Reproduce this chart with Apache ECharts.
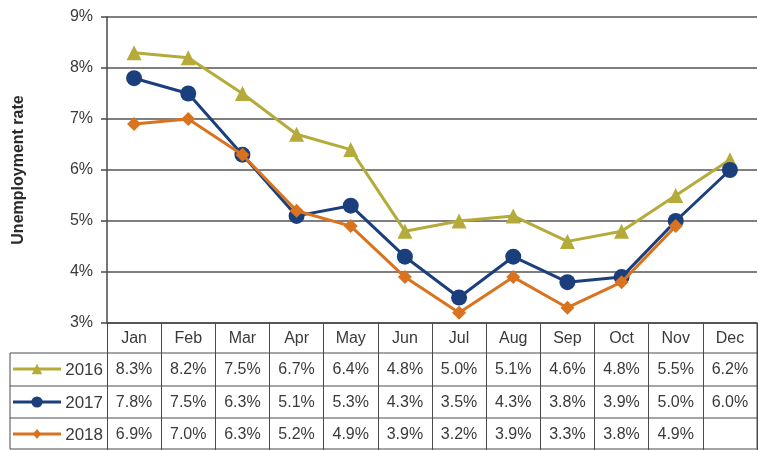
<!DOCTYPE html>
<html>
<head>
<meta charset="utf-8">
<script src="https://cdn.jsdelivr.net/npm/echarts@6/dist/echarts.min.js"></script>
<style>
html,body{margin:0;padding:0;background:#fff;}
#c{width:758px;height:450px;}
</style>
</head>
<body>
<div id="c"></div>
<script>
const categories = ['Jan','Feb','Mar','Apr','May','Jun','Jul','Aug','Sep','Oct','Nov','Dec'];
const seriesNames = ['2016','2017','2018'];
const s2016 = [8.3,8.2,7.5,6.7,6.4,4.8,5.0,5.1,4.6,4.8,5.5,6.2];
const s2017 = [7.8,7.5,6.3,5.1,5.3,4.3,3.5,4.3,3.8,3.9,5.0,6.0];
const s2018 = [6.9,7.0,6.3,5.2,4.9,3.9,3.2,3.9,3.3,3.8,4.9];
const yMin = 3, yMax = 9, yStep = 1;
const yTitle = 'Unemployment rate';

const colors = ['#b4ab3a','#1b3f7d','#d9731f'];
const symbols = ['triangle','circle','diamond'];
const symbolSizes = [15,16,14];
const allData = [s2016, s2017, s2018];
const FONT = "'Liberation Sans', Arial, sans-serif";
const TXT = '#3a3a3a';
const LINE = '#4a4a4a';

const chart = echarts.init(document.getElementById('c'), null, {renderer:'canvas'});
const option = {
  backgroundColor:'#fff',
  animation:false,
  grid:{left:107, right:1, top:17, bottom:127, containLabel:false, outerBoundsMode:'none'},
  xAxis:{
    type:'category', data:categories, boundaryGap:true,
    axisLine:{show:true, lineStyle:{color:LINE, width:1.5}},
    axisTick:{show:true, length:127, lineStyle:{color:LINE, width:1}},
    axisLabel:{color:TXT, fontFamily:FONT, fontSize:16, margin:8}
  },
  yAxis:{
    type:'value', min:yMin, max:yMax, interval:yStep,
    name:yTitle, nameLocation:'middle', nameRotate:90, nameGap:80,
    nameTextStyle:{color:'#2a2a2a', fontFamily:FONT, fontSize:16, fontWeight:'bold'},
    axisLine:{show:true, lineStyle:{color:LINE, width:1.5}},
    axisTick:{show:true, length:6, lineStyle:{color:LINE, width:1.5}},
    axisLabel:{color:TXT, fontFamily:FONT, fontSize:16, margin:14, formatter:v=>v+'%'},
    splitLine:{show:true, lineStyle:{color:'#555', width:1.5}}
  },
  series: seriesNames.map((n,i)=>({
    name:n, type:'line', data:allData[i],
    symbol:symbols[i], symbolSize:symbolSizes[i],
    lineStyle:{color:colors[i], width:3},
    itemStyle:{color:colors[i]},
    z:2+i
  }))
};
chart.setOption(option);

// data table under the axis
const xs = categories.map(c=>chart.convertToPixel({xAxisIndex:0}, c));
const tableLeft = 10, tableRight = 757, headTop = 323;
const rowTops = [353, 386, 418];
const rowH = 32;
const g = [];
rowTops.concat([449]).forEach(y=>{
  g.push({type:'line', shape:{x1:tableLeft, y1:y, x2:tableRight, y2:y}, style:{stroke:LINE, lineWidth:1}, silent:true});
});
g.push({type:'line', shape:{x1:tableLeft, y1:rowTops[0], x2:tableLeft, y2:449}, style:{stroke:LINE, lineWidth:1}, silent:true});
g.push({type:'line', shape:{x1:tableRight, y1:headTop, x2:tableRight, y2:449}, style:{stroke:LINE, lineWidth:1}, silent:true});
seriesNames.forEach((n,i)=>{
  const cy = rowTops[i] + rowH/2;
  g.push({type:'line', shape:{x1:13, y1:cy, x2:61, y2:cy}, style:{stroke:colors[i], lineWidth:3}, silent:true});
  const ms = symbolSizes[i]*0.7;
  if (symbols[i]==='triangle') {
    g.push({type:'polygon', shape:{points:[[37,cy-ms/2],[37+ms/2,cy+ms/2],[37-ms/2,cy+ms/2]]}, style:{fill:colors[i]}, silent:true});
  } else if (symbols[i]==='circle') {
    g.push({type:'circle', shape:{cx:37, cy:cy, r:ms/2}, style:{fill:colors[i]}, silent:true});
  } else {
    g.push({type:'polygon', shape:{points:[[37,cy-ms/2],[37+ms/2.4,cy],[37,cy+ms/2],[37-ms/2.4,cy]]}, style:{fill:colors[i]}, silent:true});
  }
  g.push({type:'text', x:103, y:cy+1, style:{text:n, fill:TXT, font:'17px '+FONT, align:'right', verticalAlign:'middle'}, silent:true});
  allData[i].forEach((v,j)=>{
    g.push({type:'text', x:xs[j], y:cy+1, style:{text:v.toFixed(1)+'%', fill:TXT, font:'16px '+FONT, align:'center', verticalAlign:'middle'}, silent:true});
  });
});
chart.setOption({graphic:g});
</script>
</body>
</html>
